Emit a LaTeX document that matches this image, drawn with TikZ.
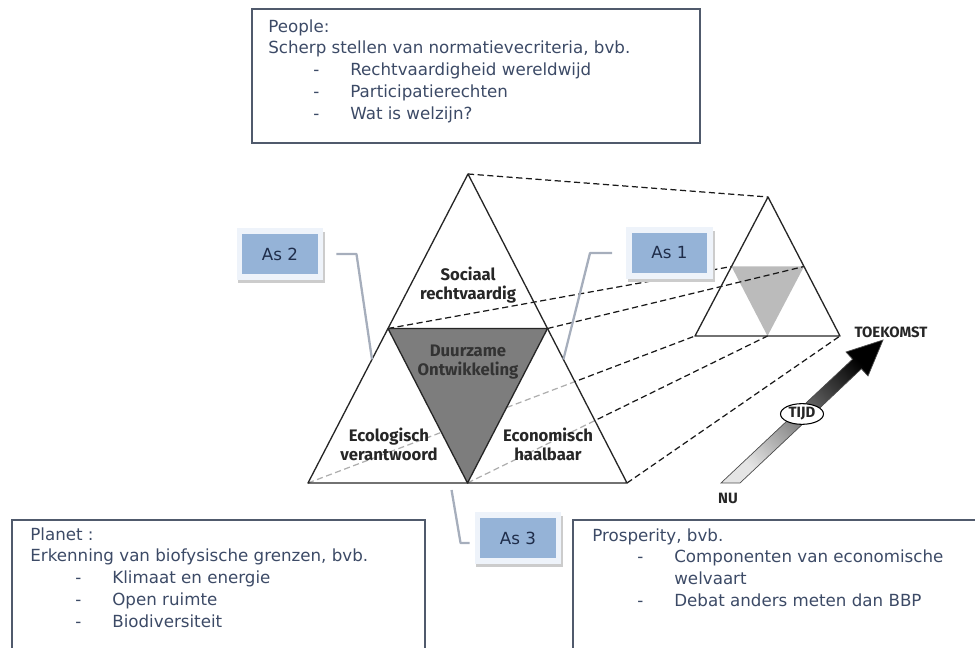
\documentclass[tikz,border=0pt]{standalone}
\usepackage{fontspec}
\setmainfont{DejaVu Sans}
\newfontfamily\labfont{Fira Sans}
\usepackage{xcolor}
\usetikzlibrary{calc,shapes.geometric,shadows}

\definecolor{asblue}{HTML}{95B3D7}
\definecolor{asframe}{HTML}{EEF3FA}
\definecolor{asnavy}{HTML}{1F2D4A}
\definecolor{axgray}{HTML}{A6AEBC}
\definecolor{txtblue}{HTML}{3C4A66}
\definecolor{boxline}{HTML}{505A6C}
\definecolor{duurgrey}{HTML}{7D7D7D}
\definecolor{smallgrey}{HTML}{BBBBBB}

% bullet line in the text boxes
\newcommand{\streep}[1]{\hspace*{0.9cm}\makebox[0.74cm][l]{-}#1}

\begin{document}
\begin{tikzpicture}[x=0.02cm,y=-0.02cm,
    edge/.style={draw=black!85,line width=0.75pt,line join=round},
    proj/.style={black!90,line width=0.7pt,dash pattern=on 3.5pt off 2pt},
    axline/.style={draw=axgray,line width=1.3pt,line join=round},
    asbox/.style={fill=asblue,draw=asframe,line width=3.4pt,minimum width=1.62cm,
      minimum height=0.92cm,inner sep=0pt,text=asnavy,font=\fontsize{9.5}{11}\selectfont,
      drop shadow={shadow xshift=1pt,shadow yshift=-2pt,opacity=1,fill=gray!40,draw=gray!40}},
    infobox/.style={draw=boxline,line width=0.7pt},
    infotext/.style={anchor=north west,inner sep=0pt,align=left,text=txtblue,
      font=\fontsize{9.5}{12.5}\selectfont},
    lab/.style={align=center,text=black!85,font=\labfont\bfseries\fontsize{9.5}{10.8}\selectfont},
    tag/.style={text=black!85,font=\labfont\bfseries\fontsize{8.5}{10}\selectfont}]
  \path[use as bounding box,clip] (0,0) rectangle (975,648);

  % big triangle (nu) and small triangle (toekomst)
  \coordinate (top) at (468,174);
  \coordinate (bl) at (308,483);
  \coordinate (br) at (627,483);
  \coordinate (ml) at ($(top)!0.5!(bl)$);
  \coordinate (mr) at ($(top)!0.5!(br)$);
  \coordinate (mb) at ($(bl)!0.5!(br)$);
  \coordinate (stop) at (768,197);
  \coordinate (sbl) at (695,336);
  \coordinate (sbr) at (840,336);
  \coordinate (sml) at ($(stop)!0.5!(sbl)$);
  \coordinate (smr) at ($(stop)!0.5!(sbr)$);
  \coordinate (smb) at ($(sbl)!0.5!(sbr)$);

  \fill[smallgrey] (sml) -- (smr) -- (smb) -- cycle;
  \draw[proj] (top) -- (stop);
  \draw[proj] (ml) -- (sml);
  \draw[proj] (mr) -- (smr);
  \draw[proj] (bl) -- (sbl);
  \draw[proj] (mb) -- (smb);
  \draw[proj] (br) -- (sbr);
  \fill[white,opacity=0.65] (bl) -- (ml) -- (mb) -- cycle;
  \fill[white,opacity=0.65] (mb) -- (mr) -- (br) -- cycle;
  \filldraw[edge,fill=duurgrey] (ml) -- (mr) -- (mb) -- cycle;
  \draw[edge] (top) -- (bl) -- (br) -- cycle;
  \draw[edge] (stop) -- (sbl) -- (sbr) -- cycle;

  \node[lab] (sociaal) at (468,285) {Sociaal\\rechtvaardig};
  \node[lab,text=black!80] (duurzaam) at (468,362) {Duurzame\\Ontwikkeling};
  \node[lab] (ecologisch) at (389,444) {Ecologisch\\verantwoord};
  \node[lab] (economisch) at (548,444) {Economisch\\haalbaar};

  % assen
  \coordinate (a1end) at ($(top)!0.6!(br)$);
  \coordinate (a2end) at ($(top)!0.6!(bl)$);
  \coordinate (a3start) at ($(bl)!0.45!(br)+(0,7)$);
  \node[asbox] (as1) at (669.5,253) {As 1};
  \node[asbox] (as2) at (280,254) {As 2};
  \node[asbox] (as3) at (518,538) {As 3};
  \draw[axline] ([xshift=-0.28cm]as1.west) -- ++(-22,0) -- (a1end);
  \draw[axline] ([xshift=0.26cm]as2.east) -- ++(20,0) -- (a2end);
  \draw[axline] (a3start) -- ++(9,53) -- ++(9,0);

  % tijd
  \shade[draw=black!70,line width=0.4pt,top color=black,middle color=gray!55,
    bottom color=gray!20,shading angle=-47]
    (721,483) -- (852.6,359.2) -- (846,352) -- (883,340) -- (868,376)
    -- (861.4,368.8) -- (740,483) -- cycle;
  \node[tag,ellipse,draw=black,fill=white,line width=0.6pt,minimum width=0.86cm,
    minimum height=0.36cm,inner sep=0.5pt] (tijd) at (802,414) {TIJD};
  \node[tag] (toekomst) at (891,332) {TOEKOMST};
  \node[tag] (nu) at (728,498) {NU};

  % tekstvakken
  \draw[infobox] (252,9) rectangle (700,143);
  \node[infotext] (people) at (268,19) {People:\\
    Scherp stellen van normatievecriteria, bvb.\\
    \streep{Rechtvaardigheid wereldwijd}\\
    \streep{Participatierechten}\\
    \streep{Wat is welzijn?}};
  \draw[infobox] (12,520) rectangle (425,660);
  \node[infotext] (planet) at (30,527) {Planet :\\
    Erkenning van biofysische grenzen, bvb.\\
    \streep{Klimaat en energie}\\
    \streep{Open ruimte}\\
    \streep{Biodiversiteit}};
  \draw[infobox] (573,520) rectangle (990,660);
  \node[infotext] (prosperity) at (592,528) {Prosperity, bvb.\\
    \streep{Componenten van economische}\\
    \hspace*{1.64cm}welvaart\\
    \streep{Debat anders meten dan BBP}};
\end{tikzpicture}
\end{document}
